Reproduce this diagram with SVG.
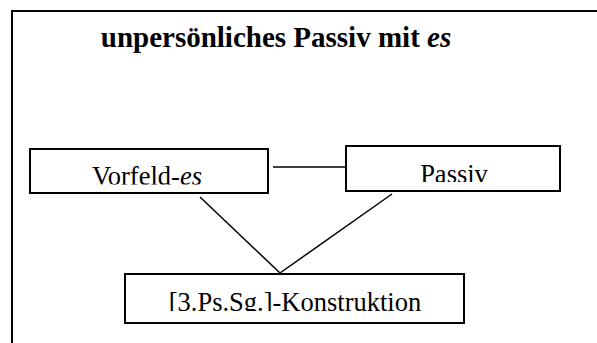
<svg xmlns="http://www.w3.org/2000/svg" width="597" height="343" viewBox="0 0 597 343">
  <style>
    .frame { fill: none; stroke: #000; stroke-width: 2; }
    .box { fill: #fff; stroke: #000; stroke-width: 2; }
    .edge { fill: none; stroke: #000; stroke-width: 1.5; }
    .label { font-family: "Liberation Serif", "Times New Roman", serif; font-size: 26.5px; fill: #000; text-anchor: middle; }
    .title { font-family: "Liberation Serif", "Times New Roman", serif; font-size: 29px; font-weight: bold; fill: #000; text-anchor: middle; }
  </style>
  <defs>
    <!-- text frames inside the boxes cut off the lower part of each label -->
    <clipPath id="clip-vorfeld"><rect x="31" y="150" width="236" height="34.5"/></clipPath>
    <clipPath id="clip-passiv"><rect x="347" y="147" width="212" height="35"/></clipPath>
    <clipPath id="clip-konstr"><rect x="126" y="274" width="337" height="37"/></clipPath>
  </defs>

  <rect width="597" height="343" fill="#fff"/>

  <!-- outer frame, running off the right and bottom edges -->
  <path class="frame" d="M12,350 V11 H610"/>

  <text class="title" x="276" y="47">unpersönliches Passiv mit <tspan font-style="italic">es</tspan></text>

  <g id="connectors">
    <line class="edge" x1="273" y1="167" x2="346" y2="167"/>
    <line class="edge" x1="200" y1="197" x2="280" y2="273"/>
    <line class="edge" x1="392" y1="194" x2="280" y2="273"/>
  </g>

  <g id="node-vorfeld">
    <rect class="box" x="30" y="149" width="238" height="44"/>
    <text class="label" x="147" y="184.5" clip-path="url(#clip-vorfeld)">Vorfeld-<tspan font-style="italic">es</tspan></text>
  </g>

  <g id="node-passiv">
    <rect class="box" x="346" y="146" width="214" height="45"/>
    <text class="label" x="454" y="182.5" clip-path="url(#clip-passiv)">Passiv</text>
  </g>

  <g id="node-konstruktion">
    <rect class="box" x="125" y="274" width="339" height="49"/>
    <text class="label" x="295" y="310.5" clip-path="url(#clip-konstr)">[3.Ps.Sg.]-Konstruktion</text>
  </g>
</svg>
